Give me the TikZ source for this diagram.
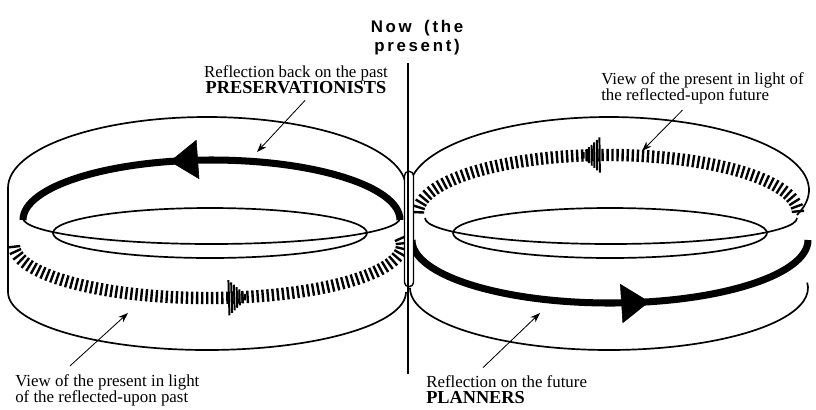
\documentclass[tikz,border=0pt]{standalone}
\usepackage{fontspec}
\setmainfont{Liberation Serif}
\newfontfamily\nowfont[LetterSpace=16]{Liberation Sans}
\usetikzlibrary{arrows.meta, decorations.markings}

\begin{document}
\begin{tikzpicture}[
    x=0.025cm, y=-0.025cm,
    >=Stealth,
    % line styles
    rim/.style={line width=1.2pt},
    thickarrow/.style={
        line width=5pt,
        postaction={decorate, decoration={markings,
            mark=at position #1 with {\arrow{Triangle[length=20pt, width=28pt, line width=0.4pt]}}}}
    },
    hatched/.style={
        postaction={decorate, decoration={markings,
            mark=between positions 0.004 and 0.998 step 3.6pt with
                {\draw[line width=1.7pt] (0,-4.4pt) -- (0,4.4pt);}}},
        postaction={decorate, decoration={markings,
            mark=at position #1 with
                {\foreach \k in {0,...,6}
                    {\draw[line width=1.4pt] (\k*1.9pt,{-(12.5-1.7*\k)*1pt}) -- (\k*1.9pt,{(12.5-1.7*\k)*1pt});}}}}
    },
    pointer/.style={->, line width=0.6pt, >={Stealth[length=7pt, width=5pt]}},
    % text styles
    lbl/.style={font=\fontsize{12}{11.5}\selectfont, inner sep=0pt},
    nowlbl/.style={font=\fontsize{12}{13.5}\selectfont\nowfont\bfseries, align=center, inner sep=0pt},
]
\useasboundingbox (0,0) rectangle (816,409);

%% ---- LABELS ----
\node[nowlbl] (now) at (417,38) {Now\hspace{0.3em} (the\\present)};
\node[lbl, align=center] (reflpast) at (296,80)
    {Reflection back on the past\\{\fontsize{13}{11.5}\selectfont\bfseries PRESERVATIONISTS}};
\node[lbl, align=left, anchor=west] (viewfut) at (601,88)
    {View of the present in light of\\the reflected-upon future};
\node[lbl, align=left, anchor=west] (viewpast) at (15,390)
    {View of the present in light\\of the reflected-upon past};
\node[lbl, align=left, anchor=west] (reflfut) at (426,390)
    {Reflection on the future\\{\fontsize{13}{11.5}\selectfont\bfseries PLANNERS}};

%% ---- LEFT RING (past) ----
\draw[rim] (8,292) -- (8,188) arc[start angle=180, end angle=360, x radius=199, y radius=71];
\draw[rim] (8,292) arc[start angle=180, end angle=0, x radius=199, y radius=58];
\draw[rim] (210,233) ellipse[x radius=157, y radius=25];
\draw[rim] (23,218) arc[start angle=180, end angle=0, x radius=188.5, y radius=26];
\draw[thickarrow=0.6] (400,220) arc[start angle=360, end angle=180, x radius=188.5, y radius=60];
\path[hatched=0.54] (14,245) arc[start angle=180, end angle=-8, x radius=194, y radius=53];

%% ---- RIGHT RING (future) ----
\draw[rim] (409,190) arc[start angle=180, end angle=380, x radius=200, y radius=73];
\draw[rim] (410,288) arc[start angle=180, end angle=-5, x radius=199, y radius=62];
\draw[rim] (610,233) ellipse[x radius=157, y radius=25];
\draw[rim] (425,218) arc[start angle=180, end angle=0, x radius=186, y radius=26];
\path[hatched=0.52] (798,213) arc[start angle=0, end angle=-180, x radius=190, y radius=58];
\draw[thickarrow=0.59] (412,240) arc[start angle=180, end angle=0, x radius=198, y radius=63];

%% ---- NOW LINE ----
\node[draw, line width=1pt, fill=white, rounded corners=3pt,
      minimum width=6.4pt, minimum height=82pt, inner sep=0pt] (twist) at (409,229) {};
\coordinate (nowtop) at (408,63);
\coordinate (nowend) at (408,374);
\draw[rim] (nowtop) -- (nowend);

%% ---- POINTERS ----
\coordinate (ppast) at (257,152);
\coordinate (pfut) at (642,151);
\coordinate (pviewpast) at (128,313);
\coordinate (preflfut) at (540,313);
\draw[pointer] ([shift={(9,6)}]reflpast.south) -- (ppast);
\draw[pointer] ([shift={(-20,6)}]viewfut.south) -- (pfut);
\draw[pointer] ([shift={(55,-8)}]viewpast.north west) -- (pviewpast);
\draw[pointer] ([shift={(57,-8)}]reflfut.north west) -- (preflfut);

\end{tikzpicture}
\end{document}
